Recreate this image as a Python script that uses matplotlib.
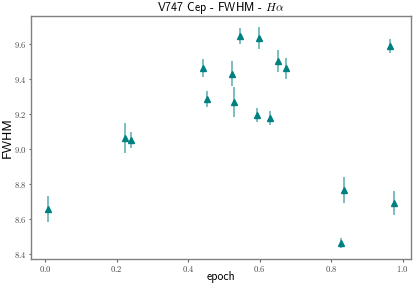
import numpy as np
import matplotlib
matplotlib.use("Agg")
import matplotlib.pyplot as plt

plt.rcParams['mathtext.fontset'] = 'cm'

# phase (epoch) of each spectrum
epoch = [0.009, 0.223, 0.240, 0.441, 0.452, 0.522, 0.529, 0.544,
         0.594, 0.598, 0.629, 0.652, 0.675, 0.828, 0.836, 0.965, 0.975]
# FWHM of H-alpha
fwhm = [8.660, 9.064, 9.053, 9.463, 9.287, 9.431, 9.268, 9.644,
        9.196, 9.634, 9.178, 9.503, 9.461, 8.466, 8.766, 9.589, 8.694]
fwhm_err = [0.075, 0.085, 0.044, 0.053, 0.045, 0.070, 0.087, 0.045,
            0.040, 0.063, 0.040, 0.062, 0.060, 0.030, 0.074, 0.040, 0.070]

xticks = [0.0, 0.2, 0.4, 0.6, 0.8, 1.0]
yticks = [8.4, 8.6, 8.8, 9.0, 9.2, 9.4, 9.6]

fig, ax = plt.subplots(figsize=(4.15, 2.88), dpi=100)
fig.subplots_adjust(left=0.075, right=0.99, top=0.945, bottom=0.1)

ax.errorbar(epoch, fwhm, yerr=fwhm_err, fmt='none', ecolor='#008080',
            elinewidth=1.3, alpha=0.55, capsize=0)
ax.plot(epoch, fwhm, '^', color='#008080', markersize=4)

ax.set_xticks(xticks)
ax.set_yticks(yticks)
ax.set_xticklabels(['$%.1f$' % v for v in xticks], fontsize=6.2, color='#444444')
ax.set_yticklabels(['$%.1f$' % v for v in yticks], fontsize=6.2, color='#444444')
ax.tick_params(length=1.8, width=0.8, color='#666666', pad=1.5)

for s in ax.spines.values():
    s.set_color('#808080')
    s.set_linewidth(1.0)

ax.set_xlabel('epoch', family='cmss10', fontsize=8.5)
ax.set_ylabel('FWHM', family='cmss10', fontsize=9.5)
ax.xaxis.set_label_coords(0.5, -0.05)
ax.yaxis.set_label_coords(-0.046, 0.5)
ax.set_title(r'V747 Cep - FWHM - $H\alpha$', family='cmss10', fontsize=8.5, pad=3)

fig.savefig('out.png', dpi=100)
